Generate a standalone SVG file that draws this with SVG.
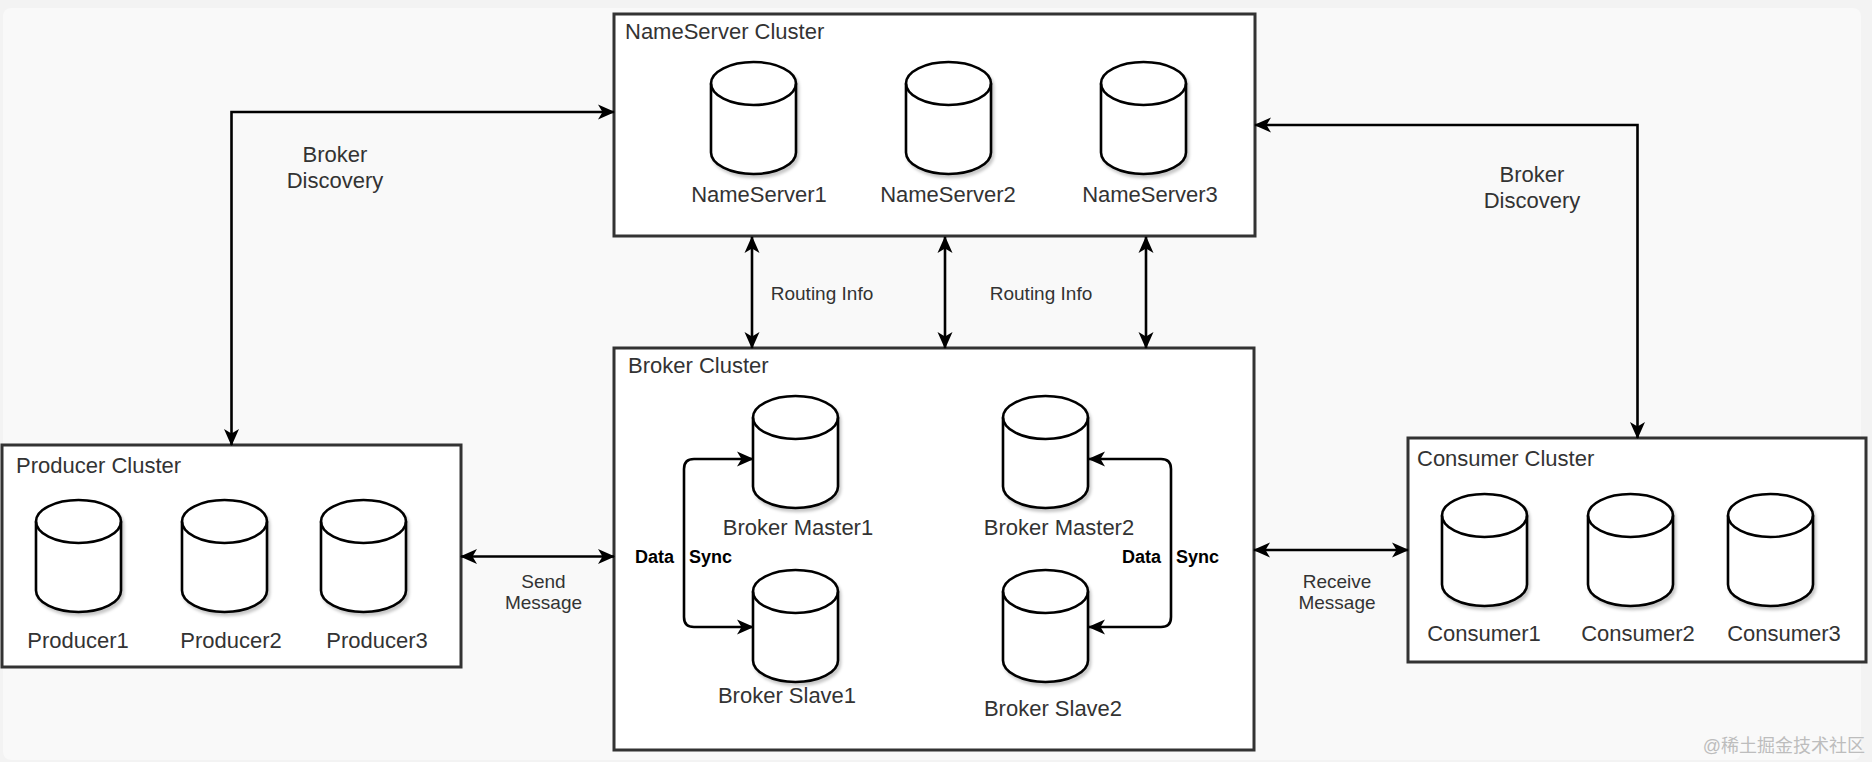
<svg xmlns="http://www.w3.org/2000/svg" width="1872" height="762" viewBox="0 0 1872 762">
<style>
.box{fill:#fff;stroke:#333;stroke-width:3}
.cyl{fill:#fff;stroke:#000;stroke-width:2.6;filter:url(#sh)}
.cyl-top{fill:none;stroke:#000;stroke-width:2.6}
.lbl{font-family:"Liberation Sans",Arial,sans-serif;font-size:22px;fill:#333}
.mid{text-anchor:middle}
.small{font-family:"Liberation Sans",Arial,sans-serif;font-size:19px;fill:#333;text-anchor:middle}
.bold{font-family:"Liberation Sans",Arial,sans-serif;font-size:18px;font-weight:bold;fill:#000}
.conn{fill:none;stroke:#000;stroke-width:2.6;marker-start:url(#arr);marker-end:url(#arr)}
.wm{font-family:"Liberation Sans","Noto Sans CJK SC",sans-serif;font-size:18px;fill:#bdbdbd;text-anchor:end}
</style>
<defs>
<marker id="arr" markerUnits="userSpaceOnUse" markerWidth="18" markerHeight="18" viewBox="0 0 18 18" refX="16" refY="9" orient="auto-start-reverse">
<path d="M0,1.5 L17,9 L0,16.5 L4.5,9 Z" fill="#000"/>
</marker>
<filter id="sh" x="-20%" y="-20%" width="150%" height="150%">
<feDropShadow dx="2" dy="3" stdDeviation="1.5" flood-color="#000" flood-opacity="0.22"/>
</filter>
<symbol id="cyl" overflow="visible">
<path class="cyl" d="M0,21.5 A42.5,21.5 0 0 1 85,21.5 L85,90.5 A42.5,21.5 0 0 1 0,90.5 Z"/>
<path class="cyl-top" d="M0,21.5 A42.5,21.5 0 0 0 85,21.5"/>
</symbol>
</defs>
<rect x="0" y="0" width="1872" height="762" fill="#f3f3f3"/>
<rect x="3" y="8" width="1858" height="752" rx="8" fill="#f9f9f9"/>

<g id="nameserver-cluster">
<rect class="box" x="614" y="14" width="641" height="222"/>
<text class="lbl" x="625" y="39">NameServer Cluster</text>
</g>
<g id="nameserver1"><use href="#cyl" x="711" y="62"/><text class="lbl mid" x="759" y="202">NameServer1</text></g>
<g id="nameserver2"><use href="#cyl" x="906" y="62"/><text class="lbl mid" x="948" y="202">NameServer2</text></g>
<g id="nameserver3"><use href="#cyl" x="1101" y="62"/><text class="lbl mid" x="1150" y="202">NameServer3</text></g>

<g id="broker-cluster">
<rect class="box" x="614" y="348" width="640" height="402"/>
<text class="lbl" x="628" y="373">Broker Cluster</text>
</g>
<g id="broker-master1"><use href="#cyl" x="753" y="396"/><text class="lbl mid" x="798" y="535">Broker Master1</text></g>
<g id="broker-slave1"><use href="#cyl" x="753" y="570"/><text class="lbl mid" x="787" y="703">Broker Slave1</text></g>
<g id="broker-master2"><use href="#cyl" x="1003" y="396"/><text class="lbl mid" x="1059" y="535">Broker Master2</text></g>
<g id="broker-slave2"><use href="#cyl" x="1003" y="570"/><text class="lbl mid" x="1053" y="716">Broker Slave2</text></g>

<g id="producer-cluster">
<rect class="box" x="2" y="445" width="459" height="222"/>
<text class="lbl" x="16" y="473">Producer Cluster</text>
</g>
<g id="producer1"><use href="#cyl" x="36" y="500"/><text class="lbl mid" x="78" y="648">Producer1</text></g>
<g id="producer2"><use href="#cyl" x="182" y="500"/><text class="lbl mid" x="231" y="648">Producer2</text></g>
<g id="producer3"><use href="#cyl" x="321" y="500"/><text class="lbl mid" x="377" y="648">Producer3</text></g>

<g id="consumer-cluster">
<rect class="box" x="1408" y="438" width="458" height="224"/>
<text class="lbl" x="1417" y="466">Consumer Cluster</text>
</g>
<g id="consumer1"><use href="#cyl" x="1442" y="494"/><text class="lbl mid" x="1484" y="641">Consumer1</text></g>
<g id="consumer2"><use href="#cyl" x="1588" y="494"/><text class="lbl mid" x="1638" y="641">Consumer2</text></g>
<g id="consumer3"><use href="#cyl" x="1728" y="494"/><text class="lbl mid" x="1784" y="641">Consumer3</text></g>

<g id="connectors">
<path class="conn" d="M231.5,445 V112 H614"/>
<path class="conn" d="M1255,125 H1637.5 V438"/>
<path class="conn" d="M752,237 V348"/>
<path class="conn" d="M945,237 V348"/>
<path class="conn" d="M1146,237 V348"/>
<path class="conn" d="M461,556.5 H614"/>
<path class="conn" d="M1254,550 H1408"/>
<path class="conn" d="M753,459 H694 Q684,459 684,469 V617 Q684,627 694,627 H753"/>
<path class="conn" d="M1089,459 H1161 Q1171,459 1171,469 V617 Q1171,627 1161,627 H1089"/>
<text class="small" x="822" y="300">Routing Info</text>
<text class="small" x="1041" y="300">Routing Info</text>
<text class="lbl mid" x="335" y="162">Broker</text>
<text class="lbl mid" x="335" y="188">Discovery</text>
<text class="lbl mid" x="1532" y="182">Broker</text>
<text class="lbl mid" x="1532" y="208">Discovery</text>
<text class="small" x="543.5" y="588">Send</text>
<text class="small" x="543.5" y="609">Message</text>
<text class="small" x="1337" y="588">Receive</text>
<text class="small" x="1337" y="609">Message</text>
<text class="bold" y="563"><tspan x="635">Data</tspan><tspan x="689">Sync</tspan></text>
<text class="bold" y="563"><tspan x="1122">Data</tspan><tspan x="1176">Sync</tspan></text>
</g>

<text class="wm" x="1865" y="752">@稀土掘金技术社区</text>
</svg>
